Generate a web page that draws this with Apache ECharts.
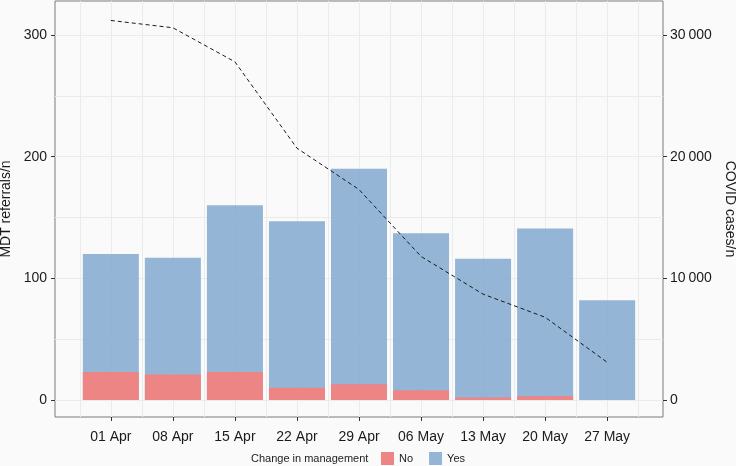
<!DOCTYPE html>
<html>
<head>
<meta charset="utf-8">
<script src="https://cdn.jsdelivr.net/npm/echarts@6/dist/echarts.min.js"></script>
<style>html,body{margin:0;padding:0;background:#FAFAFA}#c{width:736px;height:466px}</style>
</head>
<body>
<div id="c"></div>
<script>
const weeks = ['01 Apr','08 Apr','15 Apr','22 Apr','29 Apr','06 May','13 May','20 May','27 May'];
const noChange = [23, 21, 23, 10, 13, 8, 2, 3, 0];
const yesChange = [97, 96, 137, 137, 177, 129, 114, 138, 82];
const covidCases = [31200, 30600, 27800, 20700, 17300, 11800, 8700, 6800, 3100];
const leftTicks = [0, 100, 200, 300];
const leftMinor = [50, 150, 250];
const rightTicks = [0, 10000, 20000, 30000];

const idx = weeks.map((w, i) => i);
const halfIdx = [-0.5].concat(idx.map(i => i + 0.5));
// stacked totals (No drawn over the lower part of each total)
const totals = idx.map(i => noChange[i] + yesChange[i]);
const font = 'Liberation Sans, Arial, Helvetica, sans-serif';
const gridColor = '#EBEBEB';
const fmtThousands = v => String(v).replace(/\B(?=(\d{3})+(?!\d))/g, '\u2009');

const chart = echarts.init(document.getElementById('c'));
chart.setOption({
  backgroundColor: '#FAFAFA',
  animation: false,
  textStyle: {fontFamily: font},
  title: {
    text: 'Change in management', left: 251, top: 453, padding: 0,
    textStyle: {fontSize: 11, fontWeight: 'normal', color: '#222', fontFamily: font}
  },
  legend: {
    data: ['No', 'Yes'], left: 381, top: 452, padding: 0,
    itemWidth: 13, itemHeight: 13, itemGap: 16, icon: 'rect',
    textStyle: {fontSize: 11, color: '#222', fontFamily: font}
  },
  grid: {
    left: 55, right: 73, top: 1, bottom: 49, show: true,
    backgroundColor: '#FAFAFA', borderColor: '#7A7A7A', borderWidth: 1,
    containLabel: false, outerBoundsMode: 'none'
  },
  xAxis: [
    {
      type: 'value', min: -0.9, max: 8.9, position: 'bottom',
      axisLine: {show: false, onZero: false},
      axisTick: {show: true, customValues: idx, length: 4, lineStyle: {color: '#333'}},
      axisLabel: {customValues: idx, formatter: v => weeks[Math.round(v)], fontSize: 14, color: '#1a1a1a', margin: 13, fontFamily: font},
      splitLine: {show: true, lineStyle: {color: gridColor, width: 1}}
    },
    {
      type: 'value', min: -0.9, max: 8.9, position: 'bottom',
      axisLine: {show: false, onZero: false},
      axisTick: {show: false, customValues: halfIdx},
      axisLabel: {show: false},
      splitLine: {show: true, lineStyle: {color: gridColor, width: 1}}
    }
  ],
  yAxis: [
    {
      type: 'value', min: -14, max: 328, position: 'left',
      name: 'MDT referrals/n', nameLocation: 'middle', nameGap: 39, nameRotate: 90,
      nameTextStyle: {fontSize: 14, color: '#1a1a1a', fontFamily: font},
      axisLine: {show: false, onZero: false},
      axisTick: {show: true, customValues: leftTicks, length: 4, lineStyle: {color: '#333'}},
      axisLabel: {customValues: leftTicks, fontSize: 14, color: '#1a1a1a', margin: 8, fontFamily: font},
      splitLine: {show: true, lineStyle: {color: gridColor, width: 1}}
    },
    {
      type: 'value', min: -1400, max: 32800, position: 'right',
      name: 'COVID cases/n', nameLocation: 'middle', nameGap: 49, nameRotate: -90,
      nameTextStyle: {fontSize: 14, color: '#1a1a1a', fontFamily: font},
      axisLine: {show: false, onZero: false},
      axisTick: {show: true, customValues: rightTicks, length: 4, lineStyle: {color: '#333'}},
      axisLabel: {customValues: rightTicks, formatter: fmtThousands, fontSize: 14, color: '#1a1a1a', margin: 7, fontFamily: font},
      splitLine: {show: false}
    },
    {
      type: 'value', min: -14, max: 328, position: 'left',
      axisLine: {show: false, onZero: false},
      axisTick: {show: false, customValues: leftMinor},
      axisLabel: {show: false},
      splitLine: {show: true, lineStyle: {color: gridColor, width: 1}}
    }
  ],
  series: [
    {
      name: 'No', type: 'bar', xAxisIndex: 0, yAxisIndex: 0,
      barWidth: 56, barGap: '-100%', z: 3,
      itemStyle: {color: '#EE8585'},
      data: idx.map(i => [i, noChange[i]])
    },
    {
      name: 'Yes', type: 'bar', xAxisIndex: 0, yAxisIndex: 0,
      barWidth: 56, barGap: '-100%', z: 2,
      itemStyle: {color: 'rgba(136,173,209,0.9)'},
      data: idx.map(i => [i, totals[i]])
    },
    {
      name: 'COVID', type: 'line', xAxisIndex: 0, yAxisIndex: 1,
      symbol: 'none', silent: true,
      lineStyle: {color: '#1a1a1a', width: 1, type: [4, 3]},
      data: idx.map(i => [i, covidCases[i]]),
      z: 5
    }
  ]
});
</script>
</body>
</html>
